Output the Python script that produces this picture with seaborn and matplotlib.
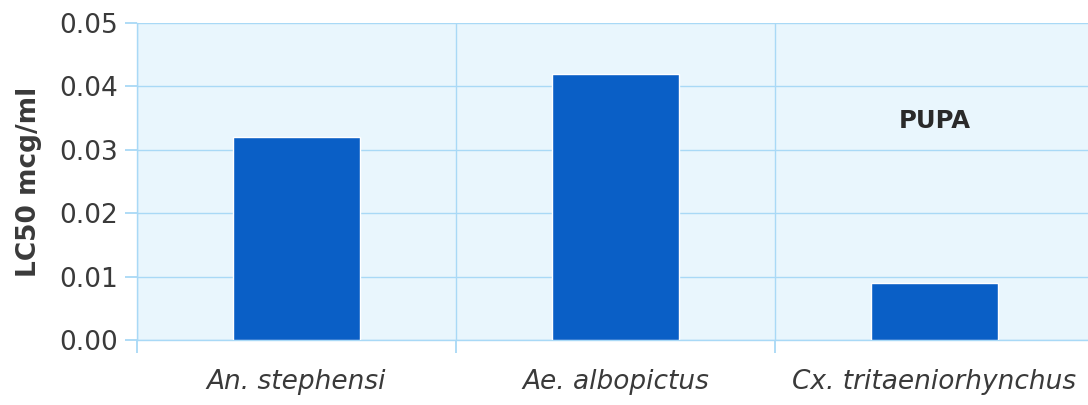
import matplotlib
matplotlib.use("Agg")
import matplotlib.pyplot as plt
import seaborn as sns
import pandas as pd

species = ["An. stephensi", "Ae. albopictus", "Cx. tritaeniorhynchus"]
lc50 = [0.032, 0.042, 0.009]
y_ticks = [0.00, 0.01, 0.02, 0.03, 0.04, 0.05]
y_label = "LC50 mcg/ml"
stage_label = "PUPA"

sns.set_style("white")
plt.rcParams["font.family"] = ["DejaVu Sans"]

df = pd.DataFrame({"species": species, "lc50": lc50})

fig = plt.figure(figsize=(10.88, 4.05), dpi=100)
ax = fig.add_axes([137/1088, (405-340)/405, (1094-137)/1088, (340-23)/405])

bg = "#e9f6fd"
grid_c = "#a9d9f6"
bar_c = "#0a5fc6"
txt_c = "#3a3a3a"
ax.set_facecolor(bg)

sns.barplot(data=df, x="species", y="lc50", color=bar_c, width=0.4,
            saturation=1, ax=ax, zorder=3)

ax.set_xlim(-0.5, 2.5)
ax.set_ylim(0, 0.05)
ax.set_yticks(y_ticks)
ax.set_yticklabels([f"{v:.2f}" for v in y_ticks])
ax.set_xticks([-0.5, 0.5, 1.5, 2.5], minor=True)

ax.yaxis.grid(True, color=grid_c, linewidth=1.0, zorder=0)
ax.xaxis.grid(True, which="minor", color=grid_c, linewidth=1.0, zorder=0)
ax.xaxis.grid(False, which="major")
ax.set_axisbelow(True)

ax.tick_params(axis="x", which="major", length=0, pad=21, labelsize=19,
               labelcolor=txt_c)
ax.tick_params(axis="x", which="minor", length=9, width=1.3, color=grid_c,
               direction="out", bottom=True)
ax.tick_params(axis="y", length=9, width=1.3, color=grid_c, direction="out",
               left=True, labelsize=19, labelcolor=txt_c, pad=5)
for lab in ax.get_xticklabels():
    lab.set_fontstyle("italic")

for s in ["top", "right"]:
    ax.spines[s].set_visible(False)
for s in ["left", "bottom"]:
    ax.spines[s].set_color(grid_c)
    ax.spines[s].set_linewidth(1.0)

ax.set_xlabel("")
ax.set_ylabel(y_label, fontsize=19, fontweight="bold", color=txt_c, labelpad=12)

ax.text(2.0, 0.0345, stage_label, ha="center", va="center", fontsize=17.5,
        fontweight="bold", color="#2a2a2a")

fig.savefig("out.png", dpi=100)
